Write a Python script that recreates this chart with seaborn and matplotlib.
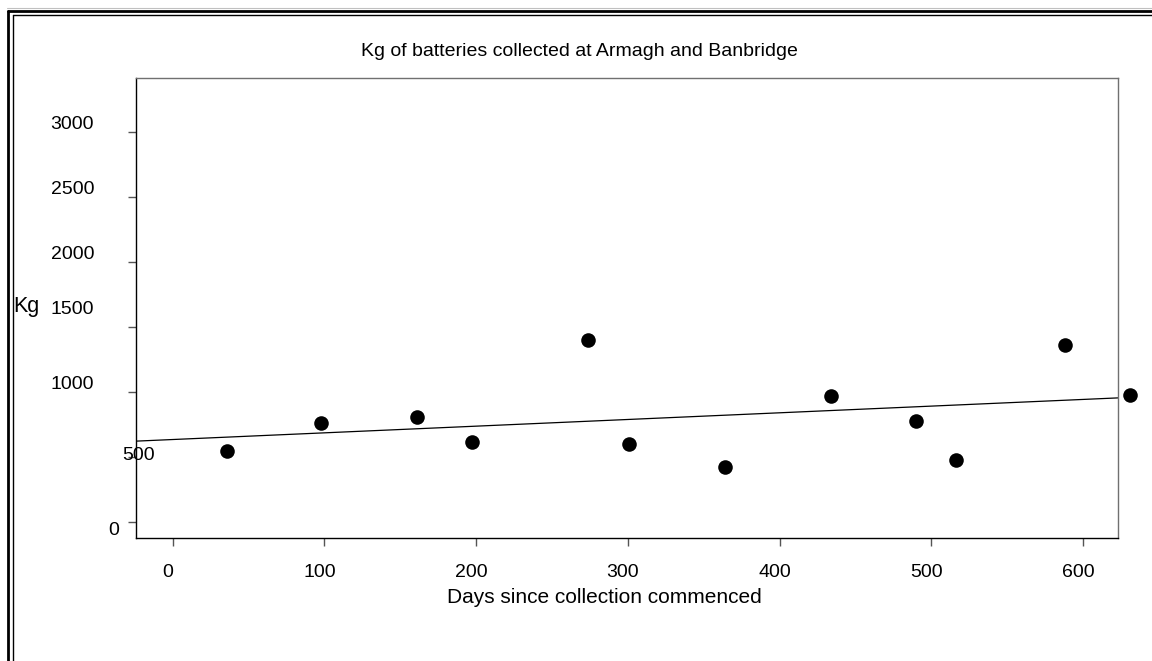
import matplotlib
matplotlib.use("Agg")
import matplotlib.pyplot as plt
import matplotlib.transforms as mtransforms
from matplotlib.lines import Line2D
import seaborn as sns
import pandas as pd

# ---- data ----
days = [36, 98, 161, 197, 274, 301, 364, 434, 490, 516, 588, 631]
kg = [549, 763, 809, 613, 1399, 603, 425, 969, 775, 474, 1366, 974]
x_ticks = [0, 100, 200, 300, 400, 500, 600]
y_ticks = [0, 500, 1000, 1500, 2000, 2500, 3000]
y_tick_labels = ["0", "500", "1000", "1500", "2000", "2500", "3000"]
title = "Kg of batteries collected at Armagh and Banbridge"
x_label = "Days since collection commenced"
y_label = "Kg"

df = pd.DataFrame({"days": days, "kg": kg})

sns.set_style("white")
plt.rcParams["font.family"] = ["Liberation Sans", "DejaVu Sans"]
plt.rcParams["text.color"] = "black"
plt.rcParams["axes.labelcolor"] = "black"
plt.rcParams["xtick.labelcolor"] = "black"
plt.rcParams["ytick.labelcolor"] = "black"

DPI = 100
fig = plt.figure(figsize=(11.52, 6.61), dpi=DPI)
ax = fig.add_axes([0.1181, 0.1861, 0.8524, 0.6959])
ax.set_xlim(-24.2, 623.1)
ax.set_ylim(-123.5, 3418)

sns.regplot(data=df, x="days", y="kg", ax=ax, ci=None, truncate=False,
            scatter_kws=dict(s=110, color="black", clip_on=False, linewidths=0, alpha=1),
            line_kws=dict(color="black", lw=0.9))

ax.set_xlim(-24.2, 623.1)
ax.set_ylim(-123.5, 3418)

# spines
for side in ["left", "bottom"]:
    ax.spines[side].set_color("black")
    ax.spines[side].set_linewidth(1.0)
for side in ["top", "right"]:
    ax.spines[side].set_color("#707070")
    ax.spines[side].set_linewidth(1.0)

fs = 14
# x ticks
ax.set_xticks(x_ticks)
ax.set_xticklabels([str(t) for t in x_ticks])
ax.tick_params(axis="x", direction="out", length=5.5, width=1, color="#555555",
               pad=13, labelsize=fs, bottom=True, labelcolor="black")
off = mtransforms.ScaledTranslation(-5 / DPI, 0, fig.dpi_scale_trans)
for lab in ax.xaxis.get_majorticklabels():
    lab.set_transform(lab.get_transform() + off)

# y ticks (labels drawn separately with their odd offsets)
ax.set_yticks(y_ticks)
ax.set_yticklabels([])
ax.tick_params(axis="y", direction="out", length=6, width=1, color="#555555", left=True)

# label offsets in pixels: (right-edge x from spine, vertical shift)
label_dx = [-17, 19, -42, -42, -42, -42, -42]
label_dy = [-9, 2, 8, 18, 8, 8, 8]
for val, txt, dx, dy in zip(y_ticks, y_tick_labels, label_dx, label_dy):
    tr = mtransforms.offset_copy(ax.get_yaxis_transform(), fig=fig, x=dx, y=dy, units="dots")
    ax.text(0, val, txt, transform=tr, ha="right", va="center", fontsize=fs,
            color="black", clip_on=False)

ax.set_xlabel(x_label, fontsize=fs + 1, va="center", color="black")
ax.xaxis.set_label_coords(0.4766, -0.1304)
ax.set_ylabel(y_label, fontsize=fs + 1.5, rotation=0, va="center", ha="center", color="black")
ax.yaxis.set_label_coords(-0.1113, 0.5028)

ax.text(0.452, 1.057, title, transform=ax.transAxes, ha="center", va="center",
        fontsize=fs, color="black")

# double frame (top and left only visible)
W, H = 1152, 661
def fx(p): return p / W
def fy(p): return 1 - p / H
fig.add_artist(Line2D([fx(8), fx(8)], [0, fy(10.5)], transform=fig.transFigure, color="black", lw=2.0))
fig.add_artist(Line2D([fx(8), 1], [fy(10.5), fy(10.5)], transform=fig.transFigure, color="black", lw=2.0))
fig.add_artist(Line2D([fx(12.5), fx(12.5)], [0, fy(14.5)], transform=fig.transFigure, color="black", lw=1.0))
fig.add_artist(Line2D([fx(12.5), 1], [fy(14.5), fy(14.5)], transform=fig.transFigure, color="black", lw=1.0))
fig.add_artist(Line2D([fx(7), 1], [fy(8), fy(8)], transform=fig.transFigure, color="#c0c0c0", lw=0.8))

fig.savefig("out.png", dpi=DPI)
